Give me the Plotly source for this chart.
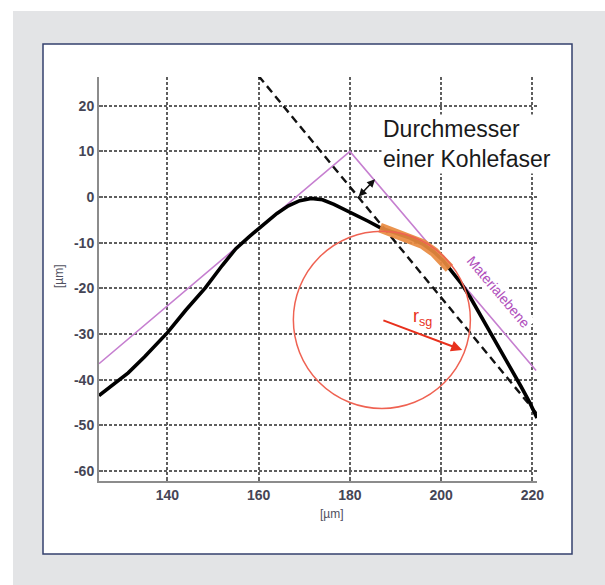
import plotly.graph_objects as go

# ---------------- data ----------------
profile_x = [125.0, 128.0, 131.4, 135.0, 140.0, 144.0, 148.3, 152.0, 155.0, 158.0,
             161.0, 164.0, 166.5, 169.0, 171.5, 174.0, 176.5, 179.0, 181.6, 184.0,
             186.6, 190.0, 193.2, 196.0, 198.5, 200.5, 202.3, 204.3, 206.4, 208.6,
             210.8, 213.0, 215.2, 217.5, 219.5, 221.0]
profile_y = [-43.5, -41.2, -38.5, -35.0, -29.7, -24.8, -19.9, -15.0, -11.3, -8.6,
             -6.1, -3.6, -1.9, -0.8, -0.3, -0.6, -1.6, -2.8, -4.0, -5.3,
             -6.7, -7.9, -9.0, -10.3, -12.1, -14.0, -16.2, -18.8, -22.0, -25.8,
             -29.6, -33.5, -37.4, -41.5, -45.2, -48.4]

orange_x = [186.6, 190.0, 193.2, 196.0, 198.5, 200.5, 201.8]
orange_y = [-6.7, -7.9, -9.0, -10.3, -12.1, -14.0, -15.6]

plane_x = [125.0, 180.0, 220.8]
plane_y = [-36.5, 10.0, -38.0]

dashed_x = [160.0, 221.0]
dashed_y = [26.5, -47.5]

diam_arrow_start = (181.6, -0.2)
diam_arrow_end = (185.5, 3.9)

circle_center = (187.0, -26.9)
circle_radius = 19.4
radius_arrow_end = (204.6, -33.5)

x_ticks = [140, 160, 180, 200, 220]
x_ticklabels = ["140", "160", "180", "200", "220"]
y_ticks = [-60, -50, -40, -30, -20, -10, 0, 10, 20]
y_ticklabels = ["-60", "-50", "-40", "-30", "-20", "-10", "0", "10", "20"]

x_range = [125.0, 221.0]
y_range = [-62.2, 26.3]

# ---------------- layout geometry ----------------
W, H = 605, 585
PL, PR, PT, PB = 99, 537, 77, 481   # plot area in pixels


def px(xp):
    return (xp - PL) / (PR - PL)


def py(yp):
    return (PB - yp) / (PB - PT)


FONT = "Liberation Sans, Arial, Helvetica, sans-serif"
PURPLE = "#c67fd0"
PURPLE_TXT = "#b04fbc"
RED = "#ef6252"

fig = go.Figure()

fig.add_trace(go.Scatter(x=plane_x, y=plane_y, mode="lines",
                         line=dict(color=PURPLE, width=1.6), hoverinfo="skip"))
fig.add_trace(go.Scatter(x=dashed_x, y=dashed_y, mode="lines",
                         line=dict(color="#111111", width=2.4, dash="8px,5px"),
                         hoverinfo="skip"))
fig.add_trace(go.Scatter(x=profile_x, y=profile_y, mode="lines",
                         line=dict(color="#000000", width=3.6),
                         hoverinfo="skip"))
fig.add_trace(go.Scatter(x=orange_x, y=orange_y, mode="lines",
                         line=dict(color="#e98a40", width=10),
                         opacity=0.92, hoverinfo="skip"))

cx, cy = circle_center
shapes = [
    dict(type="rect", xref="paper", yref="paper", x0=px(13), x1=px(W + 5),
         y0=py(11), y1=py(H + 5), fillcolor="#e3e4e6", line=dict(width=0),
         layer="below"),
    dict(type="rect", xref="paper", yref="paper", x0=px(43), x1=px(572),
         y0=py(44), y1=py(554), fillcolor="white",
         line=dict(color="#34406e", width=1.5), layer="below"),
    dict(type="circle", xref="x", yref="y", x0=cx - circle_radius,
         x1=cx + circle_radius, y0=cy - circle_radius, y1=cy + circle_radius,
         line=dict(color=RED, width=1.5)),
]

annotations = [
    dict(x=diam_arrow_end[0], y=diam_arrow_end[1], ax=diam_arrow_start[0],
         ay=diam_arrow_start[1], xref="x", yref="y", axref="x", ayref="y",
         text="", showarrow=True, arrowhead=2, arrowside="end+start",
         arrowsize=1, arrowwidth=1.6, arrowcolor="#111111", standoff=0,
         startstandoff=0),
    dict(x=radius_arrow_end[0], y=radius_arrow_end[1], ax=cx, ay=cy,
         xref="x", yref="y", axref="x", ayref="y", text="", showarrow=True,
         arrowhead=2, arrowsize=1.1, arrowwidth=2, arrowcolor="#e8301c",
         standoff=0),
    dict(x=195.9, y=-26.4, xref="x", yref="y", text="r<sub>sg</sub>",
         showarrow=False, font=dict(family=FONT, size=18, color="#e8301c")),
    dict(x=212.6, y=-20.8, xref="x", yref="y", text="Materialebene",
         showarrow=False, textangle=49.7, bgcolor="white",
         font=dict(family=FONT, size=14, color=PURPLE_TXT)),
    dict(x=px(381), y=py(114), xref="paper", yref="paper",
         xanchor="left", yanchor="top", align="left", bgcolor="white",
         text="Durchmesser<br>einer Kohlefaser", showarrow=False,
         font=dict(family=FONT, size=23, color="#1a1a1a")),
    dict(x=px(332), y=py(523), xref="paper", yref="paper",
         text="[µm]", showarrow=False,
         font=dict(family=FONT, size=12, color="#505060")),
    dict(x=px(50), y=py(276), xref="paper", yref="paper",
         text="[µm]", showarrow=False, textangle=-90,
         font=dict(family=FONT, size=12, color="#505060")),
]

grid_common = dict(showgrid=True, gridcolor="#5e5e5e", gridwidth=1.6,
                   griddash="2.5px,2.5px", zeroline=False, showline=True,
                   linecolor="#8c8c8c", linewidth=2, ticks="inside",
                   ticklen=4, tickcolor="#666666", tickwidth=1.5,
                   tickfont=dict(family=FONT, size=14, color="#454555",
                                 weight="bold"))

fig.update_layout(
    width=W, height=H,
    margin=dict(l=PL, r=W - PR, t=PT, b=H - PB, pad=0),
    paper_bgcolor="white",
    plot_bgcolor="rgba(0,0,0,0)",
    showlegend=False,
    shapes=shapes,
    annotations=annotations,
    xaxis=dict(range=x_range, tickvals=x_ticks, ticktext=x_ticklabels,
               **grid_common),
    yaxis=dict(range=y_range, tickvals=y_ticks, ticktext=y_ticklabels,
               **grid_common),
)

fig.write_html("out.html")
